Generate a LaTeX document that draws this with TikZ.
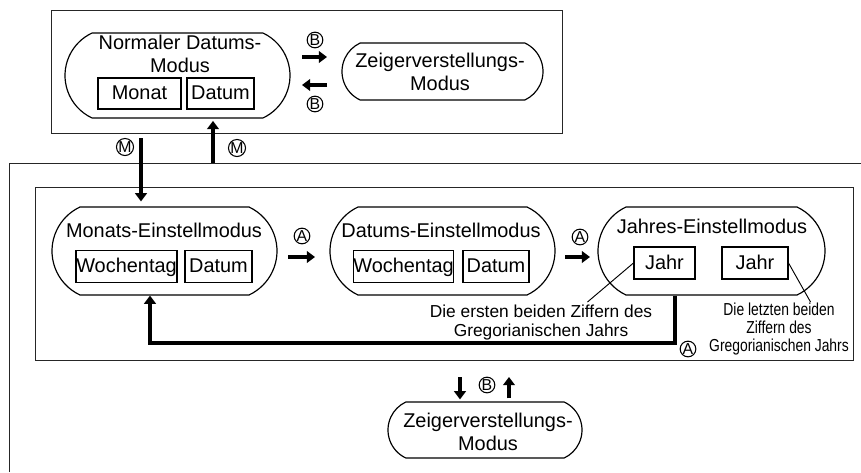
\documentclass[tikz,border=0pt]{standalone}
\usepackage{fontspec}
\setmainfont{Liberation Sans}
\newfontfamily\narrowfont[FakeStretch=0.8]{Liberation Sans}
\usetikzlibrary{shapes.misc, arrows.meta}

\begin{document}
\begin{tikzpicture}[
        x=0.03cm, y=-0.03cm,
        mode/.style={rounded rectangle, rounded rectangle arc length=130, draw, line width=1pt, inner sep=0pt},
        field/.style={rectangle, draw, line width=0.9pt, inner sep=0pt, minimum height=0.96cm, text height=11pt, text depth=0pt, font=\fontsize{17}{19.5}\selectfont},
        title/.style={anchor=base, inner sep=0pt, align=center, font=\fontsize{17}{19.5}\selectfont},
        note/.style={anchor=base, inner sep=0pt, align=center, font=\fontsize{14.8}{15.4}\selectfont},
        key/.style={circle, draw, line width=0.9pt, inner sep=0pt, minimum size=0.47cm, font=\fontsize{13.5}{13.5}\selectfont},
        frame/.style={draw, line width=0.8pt, black!85},
        arrow/.style={line width=3pt, -{Triangle[length=7pt, width=10pt]}},
        lead/.style={line width=0.8pt}
    ]
    \useasboundingbox (0,0) rectangle (861,472);

    % Top frame: normal date mode
    \draw[frame] (51,10) rectangle (562,133);
    \node[mode, minimum width=6.75cm, minimum height=2.55cm] (normal) at (177.5,75.5) {};
    \node[title] (normalT) at (180,72.5) {Normaler Datums-\\Modus};
    \node[field, minimum width=2.49cm, minimum height=0.93cm] (monat) at (139.5,93.5) {Monat};
    \node[field, minimum width=2.01cm, minimum height=0.93cm] (datum0) at (220.5,93.5) {Datum};
    \node[mode, minimum width=6.03cm, minimum height=1.71cm] (hands) at (442.5,71.5) {};
    \node[title] (handsT) at (440,90) {Zeigerverstellungs-\\Modus};

    % B: switch to hands mode and back
    \node[key] (kB1) at (315,40) {B};
    \node[key] (kB2) at (315,104) {B};
    \draw[arrow] ([shift={(-13,17)}]kB1.center) -- ([shift={(12,17)}]kB1.center);
    \draw[arrow] ([shift={(12,-19)}]kB2.center) -- ([shift={(-13,-19)}]kB2.center);

    % Outer and inner frames
    \draw[frame] (9,472) -- (9,163) -- (861,163);
    \draw[frame] (35,187) rectangle (853,360);

    % Setting modes
    \node[mode, minimum width=6.75cm, minimum height=2.64cm] (monats) at (164.5,251) {};
    \node[title] (monatsT) at (164,237) {Monats-Einstellmodus};
    \node[field, minimum width=3.03cm] (wtag1) at (126.5,266.5) {Wochentag};
    \node[field, minimum width=2.01cm] (datum1) at (218.5,266.5) {Datum};

    \node[mode, minimum width=6.75cm, minimum height=2.64cm] (datums) at (442.5,251) {};
    \node[title] (datumsT) at (441,237) {Datums-Einstellmodus};
    \node[field, minimum width=2.97cm] (wtag2) at (403.5,266.5) {Wochentag};
    \node[field, minimum width=1.98cm] (datum2) at (496,266.5) {Datum};

    \node[mode, minimum width=6.81cm, minimum height=2.64cm] (jahres) at (711.5,251) {};
    \node[title] (jahresT) at (712,233) {Jahres-Einstellmodus};
    \node[field, minimum width=1.83cm] (jahr1) at (664.5,263) {Jahr};
    \node[field, minimum width=1.98cm] (jahr2) at (755,263) {Jahr};

    % M: enter and leave setting
    \node[key] (kM1) at (125,147) {M};
    \node[key] (kM2) at (237,148) {M};
    \coordinate (mDown) at (141,138);
    \coordinate (mUp) at (213,163);
    \draw[arrow, shorten >=0.15cm] (mDown) -- (mDown |- monats.north);
    \draw[arrow, shorten >=0.07cm] (mUp) -- (mUp |- normal.south);

    % A: next setting
    \node[key] (kA1) at (302,236) {A};
    \node[key] (kA2) at (580,237) {A};
    \draw[arrow] ([shift={(-14,21)}]kA1.center) -- ([shift={(13,21)}]kA1.center);
    \draw[arrow] ([shift={(-15,20)}]kA2.center) -- ([shift={(10,20)}]kA2.center);

    % Year notes
    \node[note] (firstNote) at (541,336) {Die ersten beiden Ziffern des\\Gregorianischen Jahrs};
    \node[note, font=\narrowfont\fontsize{14.8}{15}\selectfont] (lastNote) at (779,351) {Die letzten beiden\\Ziffern des\\Gregorianischen Jahrs};
    \draw[lead] (jahr1.west) -- ++(-46,39);
    \draw[lead] (jahr2.east) -- ++(22,39);

    % Return to month setting
    \coordinate (retR) at (675,343);
    \coordinate (retL) at (150,343);
    \draw[arrow] (retR |- jahres.south) -- (retR) -- (retL) -- (retL |- monats.south);
    \node[key] (kA3) at (688,349) {A};

    % Bottom: hands mode
    \node[mode, minimum width=5.82cm, minimum height=1.68cm] (handsB) at (485,430) {};
    \node[title] (handsBT) at (488,450) {Zeigerverstellungs-\\Modus};
    \node[key] (kB3) at (487,385) {B};
    \coordinate (bDown) at (460,377);
    \coordinate (bUp) at (509,377);
    \draw[arrow, shorten >=0.06cm] (bDown) -- (bDown |- handsB.north);
    \draw[arrow, shorten <=0.09cm] (bUp |- handsB.north) -- (bUp);

\end{tikzpicture}
\end{document}
